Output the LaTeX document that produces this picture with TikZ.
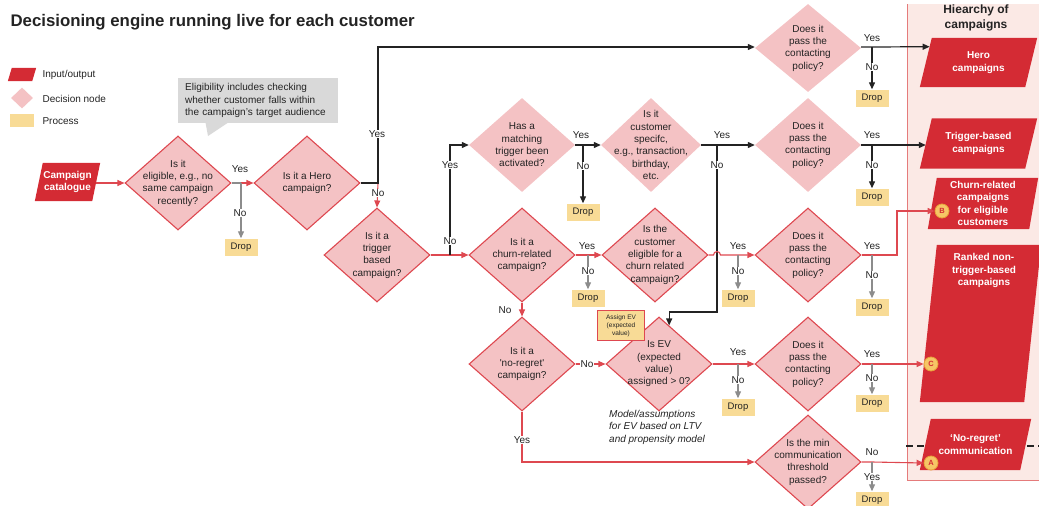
\documentclass[tikz,border=0pt]{standalone}
\usepackage{fontspec}
\setmainfont{Liberation Sans}
\usetikzlibrary{shapes.geometric,arrows.meta,calc,backgrounds}

\definecolor{flowred}{RGB}{212,43,52}
\definecolor{linered}{RGB}{222,72,80}
\definecolor{dpink}{RGB}{244,194,196}
\definecolor{panelpink}{RGB}{251,233,229}
\definecolor{panelline}{RGB}{229,123,123}
\definecolor{dropyellow}{RGB}{248,219,150}
\definecolor{notegray}{RGB}{217,217,217}
\definecolor{tagfill}{RGB}{246,197,102}
\definecolor{tagline}{RGB}{232,162,58}
\definecolor{arrowgray}{RGB}{140,140,140}
\definecolor{ink}{RGB}{35,35,35}

% red slanted box behind a rectangular node: #1 node name, #2 half of the slant
\newcommand\slantfill[2]{%
  \coordinate (#1-tl) at ($(#1.north west)+(#2,0)$);
  \coordinate (#1-tr) at ($(#1.north east)+(#2,0)$);
  \coordinate (#1-br) at ($(#1.south east)+(-#2,0)$);
  \coordinate (#1-bl) at ($(#1.south west)+(-#2,0)$);
  \fill[flowred] (#1-tl) -- (#1-tr) -- (#1-br) -- (#1-bl) -- cycle;}

\begin{document}
\begin{tikzpicture}[x=1pt,y=-1pt,
  every node/.style={font=\fontsize{10}{12.3}\selectfont, text=ink},
  dia/.style={diamond, minimum width=106pt, minimum height=94pt, inner sep=0pt, fill=dpink},
  diared/.style={dia, draw=linered, line width=1.1pt},
  dtext/.style={align=center, inner sep=0pt},
  io/.style={rectangle, inner sep=0pt},
  iotext/.style={align=center, text=white, font=\fontsize{10}{12.3}\selectfont\bfseries},
  dropbox/.style={fill=dropyellow, minimum width=33pt, minimum height=17pt, inner sep=0pt, font=\fontsize{9.5}{11}\selectfont},
  lbl/.style={inner sep=1pt},
  lblw/.style={lbl, fill=white},
  tag/.style={circle, fill=tagfill, draw=tagline, line width=0.8pt, minimum size=14pt, inner sep=0pt, font=\fontsize{7.5}{8}\selectfont\bfseries, text=flowred},
  tip/.style={-{Triangle[length=7pt,width=6pt]}},
  redline/.style={draw=linered, line width=1.1pt},
  blackline/.style={draw=ink, line width=1.2pt},
  grayline/.style={draw=arrowgray, line width=1.1pt},
]
\useasboundingbox (0,0) rectangle (1039,506);
\clip (0,0) rectangle (1039,506);

% ---------- title and legend ----------
\node[anchor=base west, font=\fontsize{16.8}{20}\selectfont\bfseries] (title) at (7,26) {Decisioning engine running live for each customer};

\node[io, minimum width=24pt, minimum height=13pt] (lgio) at (22,74.5) {};
\node[anchor=west] (lgiot) at (39,75) {Input/output};
\node[diamond, fill=dpink, minimum width=22pt, minimum height=21pt, inner sep=0pt] (lgdec) at (22,98) {};
\node[anchor=west] (lgdect) at (39,99) {Decision node};
\node[fill=dropyellow, minimum width=24pt, minimum height=13pt, inner sep=0pt] (lgproc) at (22,120.5) {};
\node[anchor=west] (lgproct) at (39,121) {Process};

% ---------- note on eligibility ----------
\fill[notegray] (205,120) -- (232,120) -- (208,136) -- cycle;
\node[fill=notegray, minimum width=160pt, minimum height=45pt, text width=146pt, inner xsep=7pt, align=left, anchor=north west] (note) at (178,78)
  {Eligibility includes checking\\whether customer falls within\\the campaign’s target audience};

% ---------- hierarchy panel: text holders ----------
\node[align=center, font=\fontsize{12}{14.5}\selectfont\bfseries] (panelhead) at (976,18) {Hiearchy of\\campaigns};
\node[io, minimum width=105pt, minimum height=49pt, iotext] (hero) at (978.5,62.5) {Hero\\campaigns};
\node[io, minimum width=105pt, minimum height=50pt, iotext] (trig) at (978.5,143.5) {Trigger-based\\campaigns};
\node[io, minimum width=101pt, minimum height=51pt, iotext] (churn) at (983,203.5) {Churn-related\\campaigns\\for eligible\\customers};
\node[io, minimum width=104pt, minimum height=157pt] (ranked) at (980.5,323.5) {};
\node[iotext] (rankedtext) at (984,270.5) {Ranked non-\\trigger-based\\campaigns};
\node[io, minimum width=100pt, minimum height=51pt, iotext] (noregret) at (975.5,444.5) {‘No-regret’\\communication};
\node[io, minimum width=57pt, minimum height=38pt, iotext] (cat) at (67.5,182) {Campaign\\catalogue};

\begin{pgfonlayer}{background}
  \fill[panelpink] (907,4) rectangle (1050,480);
  \draw[panelline, line width=0.8pt] (907,4) -- (907,480) -- (1050,480);
  \draw[ink, line width=1.4pt, dash pattern=on 7pt off 4pt] (906,446) -- (1039,446);
  \slantfill{lgio}{2}
  \slantfill{hero}{6}
  \slantfill{trig}{6}
  \slantfill{churn}{4.5}
  \slantfill{ranked}{8.5}
  \slantfill{noregret}{5.5}
  \slantfill{cat}{4}
\end{pgfonlayer}

\node[tag] (tagB) at (942,211) {B};
\node[tag] (tagC) at (931,364) {C};
\node[tag] (tagA) at (931,463) {A};

% ---------- decision nodes ----------
\node[diared, label={[dtext]center:{Is it\\eligible, e.g., no\\same campaign\\recently?}}] (d1) at (178,183) {};
\node[diared, label={[dtext]center:{Is it a Hero\\campaign?}}] (d2) at (307,183) {};
\node[diared, label={[dtext]center:{Is it a\\trigger\\based\\campaign?}}] (d3) at (377,255) {};
\node[dia, label={[dtext]center:{Has a\\matching\\trigger been\\activated?}}] (d4) at (522,145) {};
\node[dia, minimum width=100pt, label={[dtext]center:{Is it\\customer\\specifc,\\e.g., transaction,\\birthday,\\etc.}}] (d6) at (651,145) {};
\node[dia, label={[dtext]center:{Does it\\pass the\\contacting\\policy?}}] (d7) at (808,145) {};
\node[dia, minimum height=88pt, label={[dtext]center:{Does it\\pass the\\contacting\\policy?}}] (hp) at (808,48) {};
\node[diared, label={[dtext]center:{Is it a\\churn-related\\campaign?}}] (d5) at (522,255) {};
\node[diared, label={[dtext]center:{Is the\\customer\\eligible for a\\churn related\\campaign?}}] (d8) at (655,255) {};
\node[diared, label={[dtext]center:{Does it\\pass the\\contacting\\policy?}}] (d10) at (808,255) {};
\node[diared, label={[dtext]center:{Is it a\\\textquotesingle no-regret\textquotesingle\\campaign?}}] (d11) at (522,364) {};
\node[diared, label={[dtext]center:{Is EV\\(expected\\value)\\assigned > 0?}}] (d9) at (659,364) {};
\node[diared, label={[dtext]center:{Does it\\pass the\\contacting\\policy?}}] (d12) at (808,364) {};
\node[diared, label={[dtext]center:{Is the min\\communication\\threshold\\passed?}}] (d13) at (808,462) {};

\node[fill=dropyellow, draw=linered, line width=1.3pt, minimum width=47pt, minimum height=30pt, inner sep=0pt, align=center, font=\fontsize{6.5}{8}\selectfont] (assign) at (621,325.5) {Assign EV\\(expected\\value)};
\node[anchor=north west, align=left, inner sep=0pt, font=\fontsize{10}{12.3}\selectfont\itshape] (evnote) at (609,410) {Model/assumptions\\for EV based on LTV\\and propensity model};

% ---------- drops ----------
\node[dropbox] (drop1) at (241,247) {Drop};
\node[dropbox] (dropH) at (872,98) {Drop};
\node[dropbox] (drop4) at (583,212) {Drop};
\node[dropbox] (drop7) at (872,197) {Drop};
\node[dropbox] (drop5) at (588,298) {Drop};
\node[dropbox] (drop8) at (738,298) {Drop};
\node[dropbox] (drop10) at (872,307) {Drop};
\node[dropbox] (drop9) at (738,407) {Drop};
\node[dropbox] (drop12) at (872,403) {Drop};
\node[dropbox] (drop13) at (872,500) {Drop};

% ---------- junction points ----------
\coordinate (j1) at (241,183);
\coordinate (jh0) at (378,183);
\coordinate (j3) at (450,255);
\coordinate (j4) at (583,145);
\coordinate (j6) at (717,145);
\coordinate (j7) at (872,145);
\coordinate (jhp) at (872,47);
\coordinate (j5) at (588,255);
\coordinate (j8) at (738,255);
\coordinate (j10) at (872,255);
\coordinate (jB) at (897,255);
\coordinate (j9) at (738,364);
\coordinate (j12) at (872,364);
\coordinate (j13) at (872,462);
\coordinate (evturn) at (717,312);
\coordinate (evin) at ($(d9.north)!0.19!(d9.east)$);
\coordinate (heroin) at ($(hero-tl)!0.18!(hero-bl)$);
\coordinate (hop) at (j6 |- d8);

% ---------- connectors ----------
\draw[redline, tip] (cat.east |- d1) -- (d1.west);
\draw[grayline] (d1.east) -- (j1);
\draw[redline, tip] (j1) -- (d2.west);
\draw[grayline, tip] (j1) -- (drop1.north);

\draw[redline, tip] (jh0) -- (d3.north);
\draw[blackline, tip] (d2.east) -- (jh0) -- (jh0 |- jhp) -- (hp.west |- jhp);
\draw[blackline, tip] (hp.east |- jhp) -- (jhp) -- (heroin);
\draw[blackline, tip] (jhp) -- (dropH.north);

\draw[redline, tip] (d3.east) -- (j3) -- (d5.west);
\draw[blackline, tip] (j3) -- (j3 |- d4) -- (d4.west);
\draw[blackline, tip] (d4.east) -- (j4) -- (d6.west);
\draw[blackline, tip] (j4) -- (drop4.north);
\draw[blackline, tip] (d6.east) -- (j6) -- (d7.west);
\draw[blackline, tip] (j6) -- (evturn) -- (evturn -| evin) -- (evin);
\draw[blackline, tip] (d7.east) -- (j7) -- (d7 -| trig.west);
\draw[blackline, tip] (j7) -- (drop7.north);

\draw[redline, tip] (d5.east) -- (j5) -- (d8.west);
\draw[grayline, tip] (j5) -- (drop5.north);
\draw[redline, tip] (d8.east) -- ([xshift=-3.5pt]hop) arc[start angle=180, end angle=0, radius=3.5pt] -- (j8) -- (d10.west);
\draw[grayline, tip] (j8) -- (drop8.north);
\draw[redline, tip] (d10.east) -- (jB) -- (jB |- tagB) -- (tagB.west);
\draw[grayline, tip] (j10) -- (drop10.north);

\draw[redline, tip] (d5.south) -- (d11.north);
\draw[redline, tip] (d11.east) -- (d9.west);
\draw[redline, tip] (d11.south) -- (d11.south |- d13) -- (d13.west);
\draw[redline, tip] (d9.east) -- (j9) -- (d12.west);
\draw[grayline, tip] (j9) -- (drop9.north);
\draw[redline, tip] (d12.east) -- (j12) -- (tagC.west);
\draw[grayline, tip] (j12) -- (drop12.north);
\draw[redline, tip] (d13.east) -- (j13) -- (tagA.west);
\draw[grayline, tip] (j13) -- (drop13.north);

% ---------- branch labels ----------
\node[lbl] (y1) at (240,169) {Yes};
\node[lblw] (n1) at (240,213) {No};
\node[lblw] (yh0) at (377,134) {Yes};
\node[lblw] (nh0) at (378,193) {No};
\node[lblw] (n3) at (450,241) {No};
\node[lblw] (y3) at (450,165) {Yes};
\node[lbl] (y4) at (581,135) {Yes};
\node[lblw] (n4) at (583,166) {No};
\node[lbl] (y6) at (722,135) {Yes};
\node[lblw] (n6) at (717,165) {No};
\node[lbl] (y7) at (872,135) {Yes};
\node[lblw] (n7) at (872,165) {No};
\node[lbl] (yhp) at (872,38) {Yes};
\node[lblw] (nhp) at (872,67) {No};
\node[lbl] (y5) at (587,246) {Yes};
\node[lblw] (n5) at (588,271) {No};
\node[lbl] (y8) at (738,246) {Yes};
\node[lblw] (n8) at (738,271) {No};
\node[lbl] (y10) at (872,246) {Yes};
\node[lblw] (n10) at (872,275) {No};
\node[lbl] (n511) at (505,310) {No};
\node[lblw] (n119) at (587,364) {No};
\node[lblw] (y1113) at (522,440) {Yes};
\node[lbl] (y9) at (738,352) {Yes};
\node[lblw] (n9) at (738,380) {No};
\node[lbl] (y12) at (872,354) {Yes};
\node[lblw] (n12) at (872,378) {No};
\node[lbl] (n13) at (872,452) {No};
\node[lblw] (y13) at (872,477) {Yes};
\end{tikzpicture}
\end{document}
